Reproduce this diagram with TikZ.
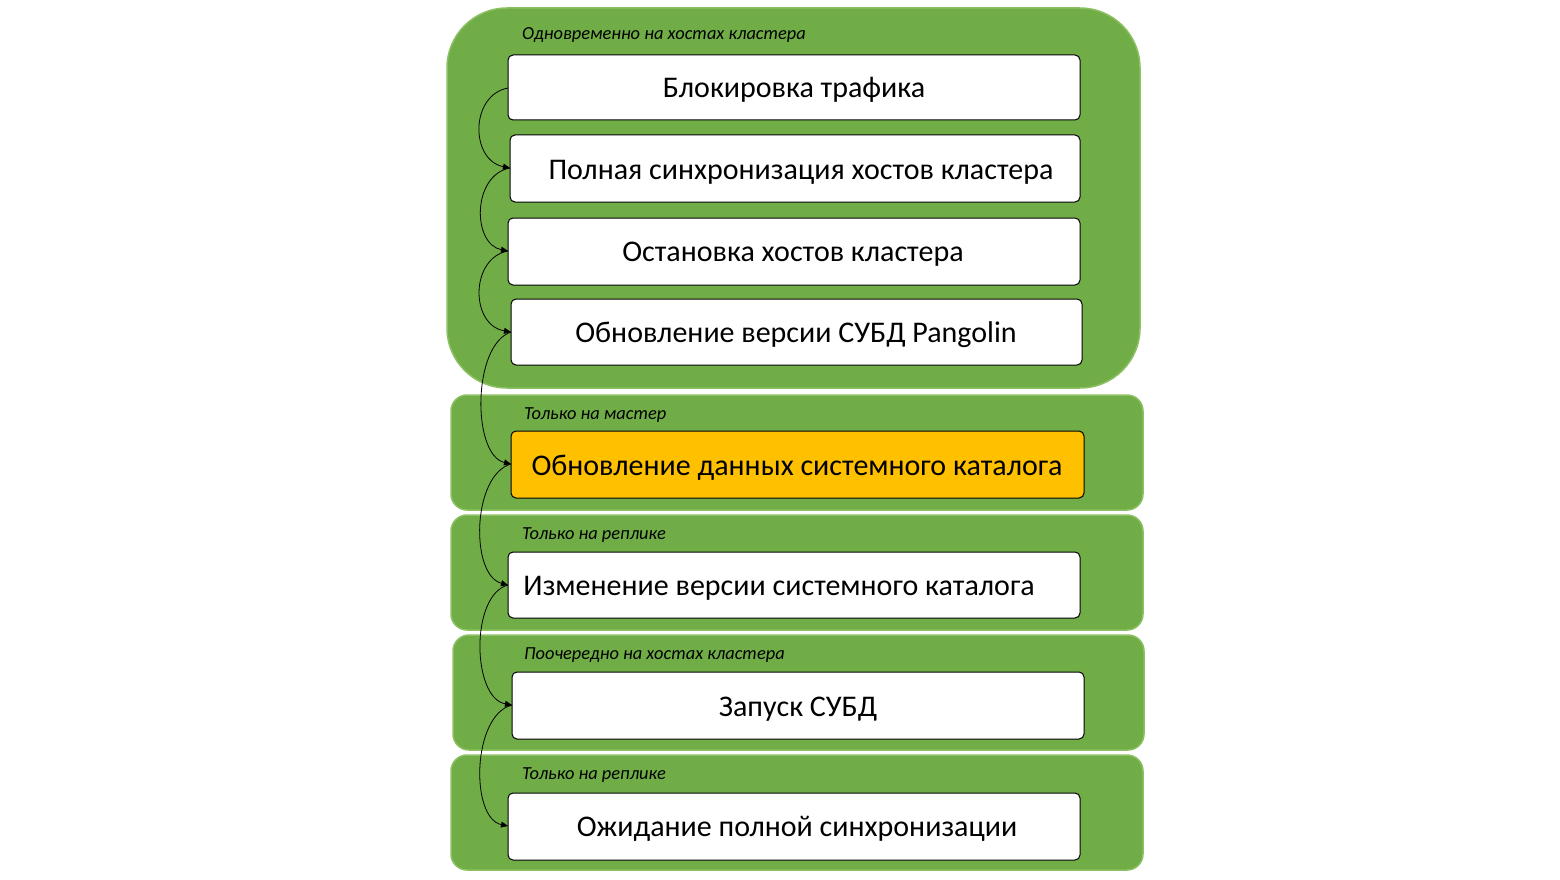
\documentclass[tikz,border=0pt]{standalone}
\usepackage{fontspec}
\setmainfont{Carlito}
\usetikzlibrary{arrows.meta}
\definecolor{grn}{HTML}{70AD47}
\definecolor{grnb}{HTML}{8CC063}
\definecolor{org}{HTML}{FFC000}
\tikzset{
 grp/.style={fill=grn,draw=grnb,line width=1.5pt,rounded corners=16pt},
 stepbox/.style={draw=black,line width=1pt,fill=white,rounded corners=5pt,font=\fontsize{30}{34}\selectfont},
 lbl/.style={anchor=west,font=\itshape\fontsize{18.4}{22}\selectfont,inner sep=0pt},
 arr/.style={-{Triangle[length=7pt,width=6pt]},line width=0.8pt}
}
\begin{document}
\begin{tikzpicture}[x=1pt,y=-1pt]
\useasboundingbox (0,0) rectangle (1560,880);
\draw[grp,rounded corners=60pt] (447,8) rectangle (1140,388);
\draw[grp] (451,395) rectangle (1143,510);
\draw[grp] (451,515) rectangle (1143,630);
\draw[grp] (453,635) rectangle (1144,750);
\draw[grp] (451,755) rectangle (1143,870);
\node[lbl] (l1) at (522,35) {Одновременно на хостах кластера};
\node[lbl] (l2) at (524,415) {Только на мастер};
\node[lbl] (l3) at (522,535) {Только на реплике};
\node[lbl] (l4) at (524,655) {Поочередно на хостах кластера};
\node[lbl] (l5) at (522,775) {Только на реплике};
\path[stepbox] (508,55) rectangle (1080,120); \node (b1) [stepbox,draw=none,fill=none] at (794,90) {Блокировка трафика};
\path[stepbox] (510,135) rectangle (1080,202); \node (b2) [stepbox,draw=none,fill=none] at (801,172) {Полная синхронизация хостов кластера};
\path[stepbox] (508,218) rectangle (1080,285); \node (b3) [stepbox,draw=none,fill=none] at (793,254) {Остановка хостов кластера};
\path[stepbox] (511,299) rectangle (1082,365); \node (b4) [stepbox,draw=none,fill=none] at (796,335) {Обновление версии СУБД Pangolin};
\path[stepbox,fill=org] (511,431) rectangle (1084,498); \node (b5) [stepbox,draw=none,fill=none] at (797,468) {Обновление данных системного каталога};
\path[stepbox] (508,552) rectangle (1080,618); \node (b6) [stepbox,draw=none,fill=none] at (779,588) {Изменение версии системного каталога};
\path[stepbox] (512,672) rectangle (1084,739); \node (b7) [stepbox,draw=none,fill=none] at (798,709) {Запуск СУБД};
\path[stepbox] (508,793) rectangle (1080,860); \node (b8) [stepbox,draw=none,fill=none] at (797,829) {Ожидание полной синхронизации};
\coordinate (a1) at (508,88); \coordinate (a2) at (510,168);
\coordinate (a3) at (508,251); \coordinate (a4) at (511,332);
\coordinate (a5) at (511,464); \coordinate (a6) at (508,585);
\coordinate (a7) at (512,705); \coordinate (a8) at (508,826);
\draw[arr] (a1) .. controls (470,95) and (470,160) .. (a2);
\draw[arr] (a2) .. controls (472,175) and (472,244) .. (a3);
\draw[arr] (a3) .. controls (470,258) and (470,325) .. (a4);
\draw[arr] (a4) .. controls (472,345) and (472,455) .. (a5);
\draw[arr] (a5) .. controls (472,475) and (470,575) .. (a6);
\draw[arr] (a6) .. controls (470,595) and (472,698) .. (a7);
\draw[arr] (a7) .. controls (472,715) and (470,818) .. (a8);
\end{tikzpicture}
\end{document}
